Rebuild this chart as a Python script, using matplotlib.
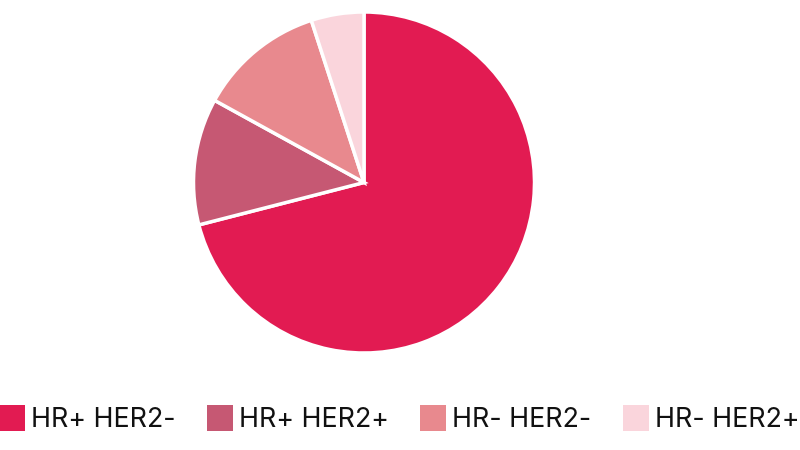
import matplotlib
matplotlib.use("Agg")
import matplotlib.pyplot as plt
from matplotlib.lines import Line2D

categories = ["HR+ HER2-", "HR+ HER2+", "HR- HER2-", "HR- HER2+"]
values = [71, 12, 12, 5]
colors = ["#E21B52", "#C65873", "#E8898E", "#FAD5DC"]

plt.rcParams['font.family'] = ['Inter', 'DejaVu Sans']

fig = plt.figure(figsize=(8, 4.5), dpi=100)
ax = fig.add_axes([193.5/800, 97/450, 341/800, 341/450])
wedges, _ = ax.pie(values, colors=colors, startangle=90, counterclock=False,
                   radius=1.0, wedgeprops=dict(edgecolor="white", linewidth=2.5))
ax.set_xlim(-1, 1)
ax.set_ylim(-1, 1)
ax.set_aspect("equal")
ax.axis("off")

handles = [Line2D([], [], linestyle="none", marker="s", markersize=19,
                  markerfacecolor=c, markeredgewidth=0) for c in colors]
leg = fig.legend(handles, categories, loc="center", bbox_to_anchor=(0.4985, 30/450),
                 ncol=4, frameon=False, fontsize=19.3, handlelength=1.0,
                 handletextpad=0.22, columnspacing=1.15, borderpad=0, borderaxespad=0)
for t in leg.get_texts():
    t.set_color("#111111")

fig.savefig("out.png", dpi=100)
